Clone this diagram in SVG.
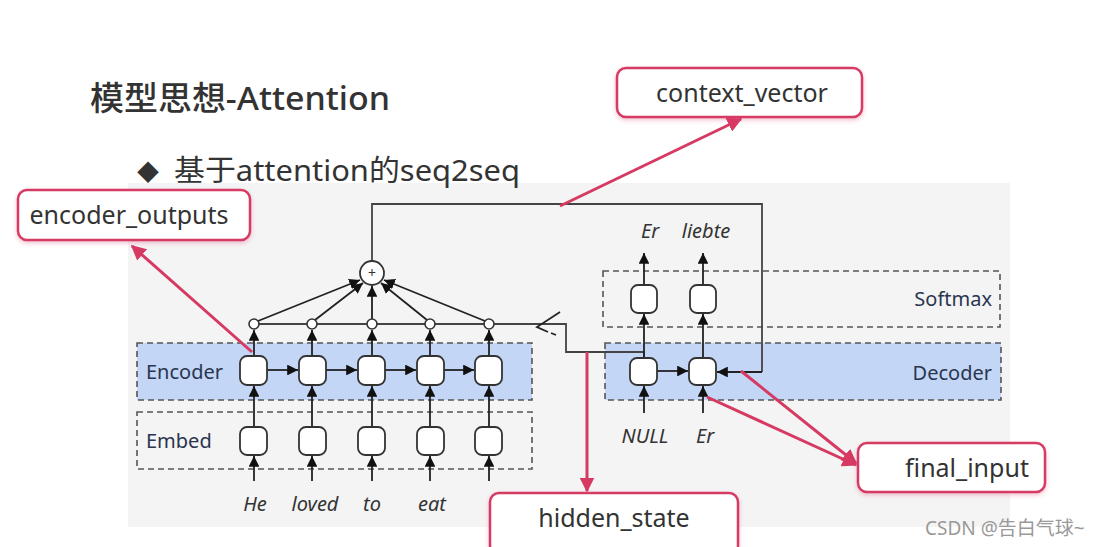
<svg xmlns="http://www.w3.org/2000/svg" width="1116" height="547" viewBox="0 0 1116 547">
<defs>
<marker id="ah" viewBox="0 0 10 10" refX="10" refY="5" markerWidth="6" markerHeight="6" orient="auto"><path d="M0,0 L10,5 L0,10 z" fill="#111"/></marker>
<marker id="rh" viewBox="0 0 10 10" refX="9" refY="5" markerWidth="5" markerHeight="5" orient="auto"><path d="M0,0 L10,5 L0,10 z" fill="#d63a63"/></marker>
<filter id="sh" x="-10%" y="-20%" width="120%" height="150%"><feDropShadow dx="0" dy="2" stdDeviation="2" flood-color="#d63a63" flood-opacity="0.3"/></filter>
</defs>
<style>
.t{font-family:"Noto Sans","Noto Sans CJK SC",sans-serif;fill:#333}
.lbl{font-family:"Noto Sans",sans-serif;font-size:20px;fill:#2a3550}
.w{font-family:"Noto Sans",sans-serif;font-size:20px;font-style:italic;fill:#333}
.band{fill:#c3d6f5;stroke:#555;stroke-width:1.6;stroke-dasharray:6 4}
.dash{fill:none;stroke:#555;stroke-width:1.6;stroke-dasharray:6 4}
.cell{fill:#fff;stroke:#333;stroke-width:1.8}
.ln{fill:none;stroke:#222;stroke-width:1.8}
.ar{fill:none;stroke:#222;stroke-width:1.8;marker-end:url(#ah)}
.g{fill:none;stroke:#444;stroke-width:1.8}
.rl{fill:none;stroke:#d63a63;stroke-width:3;marker-end:url(#rh)}
.rb{fill:#fff;stroke:#d63a63;stroke-width:2.5;filter:url(#sh)}
.bt{font-family:"Noto Sans",sans-serif;font-size:25px;fill:#333;text-anchor:middle}
</style>
<rect width="1116" height="547" fill="#fff"/>
<rect x="128" y="183" width="882" height="344" fill="#f4f4f4"/>
<text class="t" x="90" y="110" font-size="33" font-weight="500" textLength="300" lengthAdjust="spacingAndGlyphs">模型思想-Attention</text>
<text class="t" x="137" y="180" font-size="22">◆</text>
<text class="t" x="174" y="181" font-size="29" textLength="346" lengthAdjust="spacingAndGlyphs">基于attention的seq2seq</text>

<g id="encoder-layer">
<rect class="band" x="137" y="343" width="395" height="57"/>
<text class="lbl" x="146" y="379">Encoder</text>
</g>
<g id="embed-layer">
<rect class="dash" x="137" y="412" width="395" height="57"/>
<text class="lbl" x="146" y="448">Embed</text>
</g>
<g id="decoder-layer">
<rect class="band" x="605" y="343" width="396" height="57"/>
<text class="lbl" x="992" y="380" text-anchor="end">Decoder</text>
</g>
<g id="softmax-layer">
<rect class="dash" x="603" y="271" width="397" height="56"/>
<text class="lbl" x="992" y="306" text-anchor="end">Softmax</text>
</g>

<g id="connectors">
<path class="ar" d="M254,481 V456"/><path class="ar" d="M312,481 V456"/><path class="ar" d="M372,481 V456"/><path class="ar" d="M430,481 V456"/><path class="ar" d="M489,481 V456"/>
<path class="ar" d="M254,427 V386"/><path class="ar" d="M312,427 V386"/><path class="ar" d="M372,427 V386"/><path class="ar" d="M430,427 V386"/><path class="ar" d="M489,427 V386"/>
<path class="ar" d="M267,370 H298"/><path class="ar" d="M326,370 H357"/><path class="ar" d="M385,370 H416"/><path class="ar" d="M444,370 H474"/>
<path class="ar" d="M254,356 V330"/><path class="ar" d="M312,356 V330"/><path class="ar" d="M372,356 V330"/><path class="ar" d="M430,356 V330"/><path class="ar" d="M489,356 V330"/>
<path class="ar" d="M258,321 L360,280"/>
<path class="ar" d="M315,320 L363,283"/>
<path class="ar" d="M372,319 V286"/>
<path class="ar" d="M427,320 L381,283"/>
<path class="ar" d="M485,321 L384,280"/>
<path class="g" d="M254,324 H566 V352 H644 V358"/>
<path class="ln" d="M560,312 L537,327 L548,332 M551,333 L556,335" stroke-width="1.6"/>
<path class="g" d="M372,261 V204 H762 V372"/>
<path class="ar" d="M762,372 H717"/>
<path class="ar" d="M657,371 H688"/>
<path class="ar" d="M644,413 V386"/><path class="ar" d="M703,413 V386"/>
<path class="ar" d="M644,358 V314"/><path class="ar" d="M703,358 V314"/>
<path class="ar" d="M644,285 V253"/><path class="ar" d="M703,285 V253"/>
</g>

<g id="encoder-cells">
<rect class="cell" x="240" y="356" width="27" height="29" rx="7"/>
<rect class="cell" x="299" y="356" width="27" height="29" rx="7"/>
<rect class="cell" x="358" y="356" width="27" height="29" rx="7"/>
<rect class="cell" x="417" y="356" width="27" height="29" rx="7"/>
<rect class="cell" x="475" y="356" width="27" height="29" rx="7"/>
</g>
<g id="embed-cells">
<rect class="cell" x="240" y="427" width="27" height="28" rx="7"/>
<rect class="cell" x="299" y="427" width="27" height="28" rx="7"/>
<rect class="cell" x="358" y="427" width="27" height="28" rx="7"/>
<rect class="cell" x="417" y="427" width="27" height="28" rx="7"/>
<rect class="cell" x="475" y="427" width="27" height="28" rx="7"/>
</g>
<g id="decoder-cells">
<rect class="cell" x="630" y="358" width="27" height="27" rx="7"/>
<rect class="cell" x="689" y="358" width="27" height="27" rx="7"/>
</g>
<g id="softmax-cells">
<rect class="cell" x="631" y="285" width="26" height="28" rx="7"/>
<rect class="cell" x="690" y="285" width="26" height="28" rx="7"/>
</g>
<g id="sum">
<circle cx="372" cy="273" r="12" fill="#fff" stroke="#333" stroke-width="1.8"/>
<text x="372" y="278" font-family="Noto Sans,sans-serif" font-size="14" text-anchor="middle" fill="#333">+</text>
</g>
<g id="attn-points" fill="#fff" stroke="#333" stroke-width="1.6">
<circle cx="254" cy="324" r="5"/>
<circle cx="312" cy="324" r="5"/>
<circle cx="372" cy="324" r="5"/>
<circle cx="430" cy="324" r="5"/>
<circle cx="489" cy="324" r="5"/>
</g>
<g id="words">
<text class="w" x="255" y="511" text-anchor="middle">He</text>
<text class="w" x="315" y="511" text-anchor="middle">loved</text>
<text class="w" x="372" y="511" text-anchor="middle">to</text>
<text class="w" x="432" y="511" text-anchor="middle">eat</text>
<text class="w" x="650" y="238" text-anchor="middle">Er</text>
<text class="w" x="706" y="238" text-anchor="middle">liebte</text>
<text class="w" x="645" y="443" text-anchor="middle">NULL</text>
<text class="w" x="705" y="443" text-anchor="middle">Er</text>
</g>

<g id="annotation-arrows">
<path class="rl" d="M252,352 L132,246"/>
<path class="rl" d="M560,206 L741,119"/>
<path class="rl" d="M587,352 V491"/>
<path class="rl" d="M707,397 L856,465"/>
<path class="rl" d="M741,371 L856,463"/>
</g>

<g id="encoder_outputs"><rect class="rb" x="18" y="190" width="232" height="50" rx="9"/><text class="bt" x="129" y="224">encoder_outputs</text></g>
<g id="context_vector"><rect class="rb" x="617" y="68" width="245" height="49" rx="9"/><text class="bt" x="742" y="102">context_vector</text></g>
<g id="hidden_state"><rect class="rb" x="490" y="493" width="248" height="62" rx="9"/><text class="bt" x="614" y="527">hidden_state</text></g>
<g id="final_input"><rect class="rb" x="858" y="443" width="187" height="49" rx="9"/><text class="bt" x="967" y="477">final_input</text></g>
<text x="925" y="535" font-family="Noto Sans,Noto Sans CJK SC,sans-serif" font-size="19" fill="#999">CSDN @告白气球~</text>
</svg>
